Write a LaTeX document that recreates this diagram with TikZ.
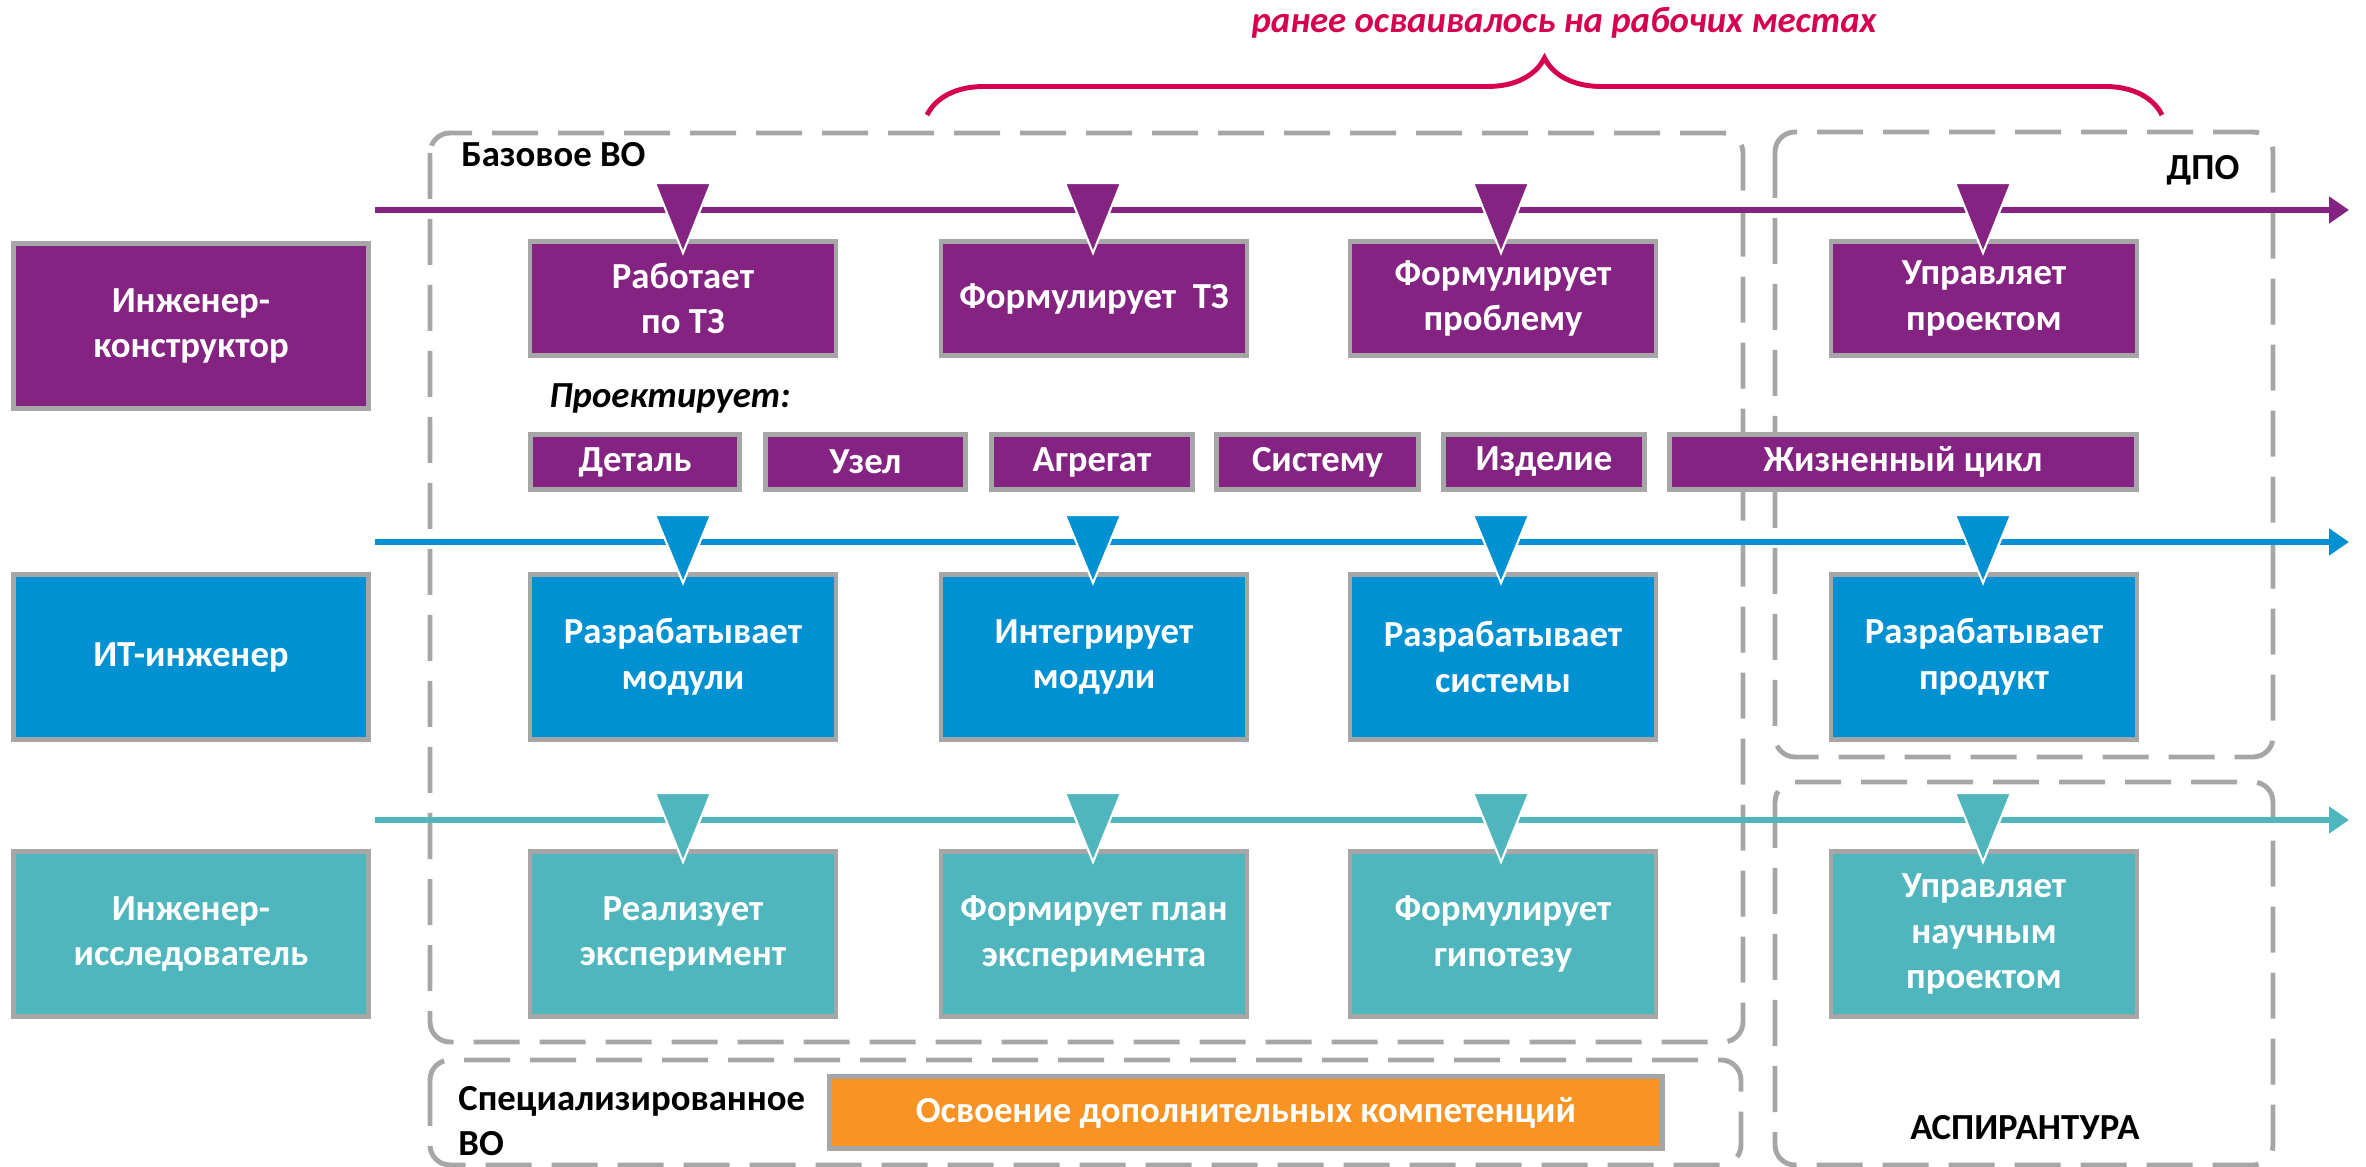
\documentclass[tikz,border=0pt]{standalone}
\usepackage{fontspec}
\setmainfont{Carlito}
\usetikzlibrary{arrows.meta,decorations.pathreplacing}

\definecolor{ipurple}{RGB}{132,35,130}
\definecolor{iblue}{RGB}{0,145,210}
\definecolor{iteal}{RGB}{79,182,189}
\definecolor{iorange}{RGB}{248,147,36}
\definecolor{icrimson}{RGB}{213,0,80}
\definecolor{igray}{RGB}{166,166,166}

\tikzset{
  every node/.style={font=\fontsize{10.45}{13}\selectfont\bfseries},
  box/.style={draw=igray, line width=1.4pt, text=white, align=center, inner sep=0pt},
  role/.style={box, minimum width=3.55cm, minimum height=1.65cm},
  task/.style={box, minimum width=3.06cm, minimum height=1.65cm},
  part/.style={box, fill=ipurple, minimum height=0.55cm},
  region/.style={draw=igray, line width=1.4pt, dash pattern=on 0.46cm off 0.2cm, rounded corners=0.2cm},
  timeline/.style={line width=1.5pt, -{Triangle[length=0.2cm,width=0.26cm]}},
  tri/.style={draw=white, line width=0.6pt},
  curly/.style={decorate, decoration={brace, amplitude=0.57cm}, draw=icrimson, line width=1.4pt}
}

\begin{document}
\begin{tikzpicture}
\useasboundingbox (0,0) rectangle (23.66,-11.67);

% areas
\draw[region] (4.30,-1.33) rectangle (17.43,-10.42);
\draw[region] (4.30,-10.60) rectangle (17.41,-11.65);
\draw[region] (17.75,-1.32) rectangle (22.73,-7.57);
\draw[region] (17.75,-7.82) rectangle (22.73,-11.65);
\node[anchor=west] (baseLbl) at (4.49,-1.55) {Базовое ВО};
\node (dpoLbl) at (22.03,-1.70) {ДПО};
\node (aspLbl) at (20.25,-11.28) {АСПИРАНТУРА};
\node[anchor=west, align=left] (specLbl) at (4.46,-11.21) {Специализированное\\ВО};

% brace
\coordinate (bl) at (9.27,-1.15);
\coordinate (br) at (21.62,-1.15);
\draw[curly] (bl) -- (br);
\node[text=icrimson] (note) at (15.64,-0.23) {\itshape ранее осваивалось на рабочих местах};

% timelines
\coordinate (kStart) at (3.75,-2.10);
\coordinate (kEnd) at (23.49,-2.10);
\coordinate (iStart) at (3.75,-5.42);
\coordinate (iEnd) at (23.49,-5.42);
\coordinate (rStart) at (3.75,-8.20);
\coordinate (rEnd) at (23.49,-8.20);
\draw[timeline, ipurple] (kStart) -- (kEnd);
\draw[timeline, iblue] (iStart) -- (iEnd);
\draw[timeline, iteal] (rStart) -- (rEnd);

% roles
\node[role, fill=ipurple] (konstr) at (1.91,-3.26) {Инженер-\\конструктор};
\node[role, fill=iblue] (itEng) at (1.91,-6.57) {ИТ-инженер};
\node[role, fill=iteal] (issl) at (1.91,-9.34) {Инженер-\\исследователь};

% tasks
\node[task, fill=ipurple, minimum height=1.14cm] (k1) at (6.83,-2.985) {Работает\\по ТЗ};
\node[task, fill=ipurple, minimum height=1.14cm] (k2) at (10.94,-2.985) {Формулирует\ \ ТЗ};
\node[task, fill=ipurple, minimum height=1.14cm] (k3) at (15.03,-2.985) {Формулирует\\проблему};
\node[task, fill=ipurple, minimum height=1.14cm] (k4) at (19.84,-2.985) {Управляет\\проектом};
\node[task, fill=iblue] (i1) at (6.83,-6.57) {Разрабатывает\\модули};
\node[task, fill=iblue] (i2) at (10.94,-6.57) {Интегрирует\\модули};
\node[task, fill=iblue] (i3) at (15.03,-6.57) {Разрабатывает\\системы};
\node[task, fill=iblue] (i4) at (19.84,-6.57) {Разрабатывает\\продукт};
\node[task, fill=iteal] (r1) at (6.83,-9.34) {Реализует\\эксперимент};
\node[task, fill=iteal] (r2) at (10.94,-9.34) {Формирует план\\эксперимента};
\node[task, fill=iteal] (r3) at (15.03,-9.34) {Формулирует\\гипотезу};
\node[task, fill=iteal] (r4) at (19.84,-9.34) {Управляет\\научным\\проектом};

% what is designed
\node (design) at (6.70,-3.98) {\itshape Проектирует:};
\node[part, minimum width=2.09cm] (p1) at (6.35,-4.62) {Деталь};
\node[part, minimum width=2.00cm] (p2) at (8.655,-4.62) {Узел};
\node[part, minimum width=2.01cm] (p3) at (10.92,-4.62) {Агрегат};
\node[part, minimum width=2.02cm] (p4) at (13.175,-4.62) {Систему};
\node[part, minimum width=2.01cm] (p5) at (15.44,-4.62) {Изделие};
\node[part, minimum width=4.67cm] (p6) at (19.03,-4.62) {Жизненный цикл};

% extra competences
\node[box, fill=iorange, minimum width=8.33cm, minimum height=0.72cm] (extra) at (12.46,-11.125) {Освоение дополнительных компетенций};

% markers
\draw[tri, fill=ipurple] (6.55,-1.83) -- (7.11,-1.83) -- (6.83,-2.53) -- cycle;
\draw[tri, fill=ipurple] (10.65,-1.83) -- (11.21,-1.83) -- (10.93,-2.53) -- cycle;
\draw[tri, fill=ipurple] (14.73,-1.83) -- (15.29,-1.83) -- (15.01,-2.53) -- cycle;
\draw[tri, fill=ipurple] (19.55,-1.83) -- (20.11,-1.83) -- (19.83,-2.53) -- cycle;
\draw[tri, fill=iblue] (6.55,-5.15) -- (7.11,-5.15) -- (6.83,-5.83) -- cycle;
\draw[tri, fill=iblue] (10.65,-5.15) -- (11.21,-5.15) -- (10.93,-5.83) -- cycle;
\draw[tri, fill=iblue] (14.73,-5.15) -- (15.29,-5.15) -- (15.01,-5.83) -- cycle;
\draw[tri, fill=iblue] (19.55,-5.15) -- (20.11,-5.15) -- (19.83,-5.83) -- cycle;
\draw[tri, fill=iteal] (6.55,-7.93) -- (7.11,-7.93) -- (6.83,-8.62) -- cycle;
\draw[tri, fill=iteal] (10.65,-7.93) -- (11.21,-7.93) -- (10.93,-8.62) -- cycle;
\draw[tri, fill=iteal] (14.73,-7.93) -- (15.29,-7.93) -- (15.01,-8.62) -- cycle;
\draw[tri, fill=iteal] (19.55,-7.93) -- (20.11,-7.93) -- (19.83,-8.62) -- cycle;
\end{tikzpicture}
\end{document}
